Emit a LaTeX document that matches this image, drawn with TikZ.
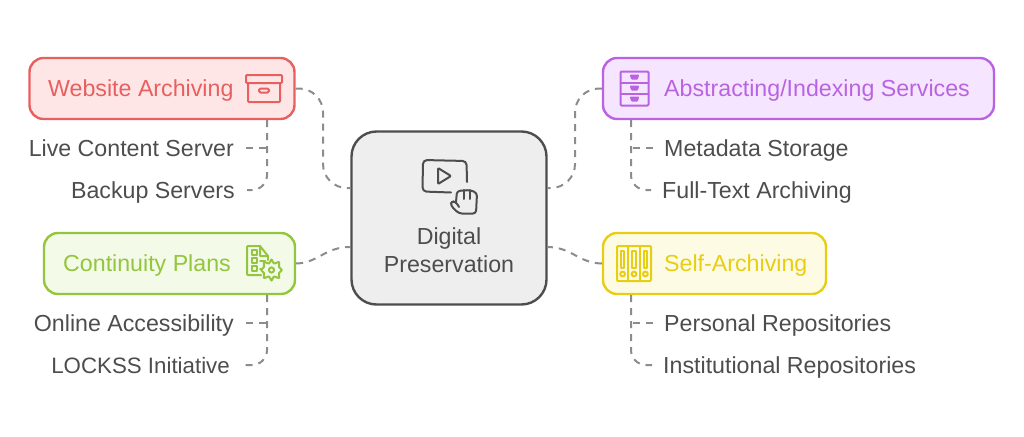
\documentclass[tikz,border=0pt]{standalone}
\usepackage{fontspec}
\setmainfont{Liberation Sans}
\usetikzlibrary{calc}
\definecolor{inkgrey}{HTML}{4D4D4D}
\definecolor{linkgrey}{HTML}{8C8C8C}
\definecolor{redline}{HTML}{E85F5F}
\definecolor{redfill}{HTML}{FFE6E6}
\definecolor{greenline}{HTML}{93C63C}
\definecolor{greenfill}{HTML}{F3FAE8}
\definecolor{purpleline}{HTML}{B963E3}
\definecolor{purplefill}{HTML}{F6E5FE}
\definecolor{yellowline}{HTML}{E8CE12}
\definecolor{yellowfill}{HTML}{FEFBE5}
\begin{document}
\begin{tikzpicture}[x=1pt,y=-1pt,line join=round,line cap=round,font=\fontsize{23.2}{27}\selectfont]
	\tikzstyle{box}=[draw,line width=2.4pt,rounded corners=14pt,inner sep=0pt] % coloured topic box
	\tikzstyle{redbox}=[box,draw=redline,fill=redfill,minimum width=265pt,minimum height=61pt]
	\tikzstyle{greenbox}=[box,draw=greenline,fill=greenfill,minimum width=251pt,minimum height=61pt]
	\tikzstyle{purplebox}=[box,draw=purpleline,fill=purplefill,minimum width=391pt,minimum height=61pt]
	\tikzstyle{yellowbox}=[box,draw=yellowline,fill=yellowfill,minimum width=223pt,minimum height=61pt]
	\tikzstyle{title}=[inner sep=0pt,text height=21pt,text depth=5pt] % text inside a box
	\tikzstyle{leftitem}=[text=inkgrey,text height=21pt,text depth=5pt,inner ysep=0pt,inner xsep=12pt,anchor=east]
	\tikzstyle{rightitem}=[text=inkgrey,text height=21pt,text depth=5pt,inner ysep=0pt,inner xsep=11pt,anchor=west]
	\tikzstyle{link}=[draw=linkgrey,line width=2pt,line cap=butt,dash pattern=on 7pt off 6pt]
	\tikzstyle{glyph}=[line width=2pt,fill=none]
	\useasboundingbox (0,0) rectangle (1024,436);

	% centre box and the four topic boxes
	\node(hub)[box,draw=inkgrey,fill=black!6.5,rounded corners=25pt,minimum width=195pt,minimum height=173pt] at (449,218) {};
	\node(web)[redbox] at (162,88.5) {};
	\node(plans)[greenbox] at (169.5,263.5) {};
	\node(index)[purplebox] at (798.5,88.5) {};
	\node(self)[yellowbox] at (714.5,263.5) {};

	% texts
	\node(hubA)[title,text=inkgrey] at (449,236) {Digital};
	\node(hubB)[title,text=inkgrey] at (449,264) {Preservation};
	\node(webT)[title,text=redline,anchor=west] at (48,88.5) {Website Archiving};
	\node(plansT)[title,text=greenline,anchor=west] at (63,263.5) {Continuity Plans};
	\node(indexT)[title,text=purpleline,anchor=west] at (664,88.5) {Abstracting/Indexing Services};
	\node(selfT)[title,text=yellowline,anchor=west] at (664,263.5) {Self-Archiving};
	\node(live)[leftitem] at (246,148) {Live Content Server};
	\node(backup)[leftitem] at (247,190) {Backup Servers};
	\node(online)[leftitem] at (246,323) {Online Accessibility};
	\node(lockss)[leftitem,font=\fontsize{22.3}{27}\selectfont] at (242,365) {LOCKSS Initiative};
	\node(meta)[rightitem] at (653,148) {Metadata Storage};
	\node(full)[rightitem] at (651,190) {Full-Text Archiving};
	\node(personal)[rightitem] at (653,323) {Personal Repositories};
	\node(inst)[rightitem] at (652,365) {Institutional Repositories};

	% points where the dashed lines meet the boxes
	\coordinate (hubNW) at (350,188);
	\coordinate (hubSW) at (350,247);
	\coordinate (hubNE) at (547,188);
	\coordinate (hubSE) at (547,247);
	\coordinate (webOut) at (267,120);
	\coordinate (plansOut) at (267,295);
	\coordinate (indexOut) at (631,120);
	\coordinate (selfOut) at (631,295);
	\coordinate (leftMid) at (323,138);
	\coordinate (rightMid) at (575,138);

	% hub connections
	\draw[link,rounded corners=24pt] (web.east) -| (leftMid) |- (hubNW);
	\draw[link,rounded corners=24pt] (index.west) -| (rightMid) |- (hubNE);
	\draw[link] (plans.east) .. controls (318,263) and (325,247) .. (hubSW);
	\draw[link] (self.west) .. controls (578,263) and (572,247) .. (hubSE);

	% item connections
	\draw[link] (live.east) -- (live.east -| webOut);
	\draw[link,rounded corners=15pt] (webOut) |- (backup.east);
	\draw[link] (online.east) -- (online.east -| plansOut);
	\draw[link,rounded corners=15pt] (plansOut) |- (lockss.east);
	\draw[link] (meta.west) -- (meta.west -| indexOut);
	\draw[link,rounded corners=15pt] (indexOut) |- (full.west);
	\draw[link] (personal.west) -- (personal.west -| selfOut);
	\draw[link,rounded corners=15pt] (selfOut) |- (inst.west);

	% archive box
	\begin{scope}[glyph,draw=redline]
		\draw[rounded corners=1pt] (246,75) rectangle (282,83);
		\draw[rounded corners=1pt] (248,83) -- (248,102) -- (280,102) -- (280,83);
		\draw[rounded corners=1.5pt] (259,88.5) rectangle (269,92.5);
	\end{scope}

	% checklist with gear
	\begin{scope}[glyph,draw=greenline]
		\draw[rounded corners=1pt] (260,246) -- (247,246) -- (247,275) -- (261,275);
		\draw (260,246) -- (268,256) -- (260,256) -- cycle;
		\draw (268,256) -- (268,260);
		\foreach \ypos in {250,258,266}
			\draw (252,\ypos) rectangle (257,\ypos+5);
		\draw (260,260.5) -- (265,260.5);
		\draw (260,268.5) -- (262,268.5);
		\draw (271.5,270) circle (2.6);
		\draw plot[smooth cycle,tension=0.35] coordinates {(271.5,259.5) (274,263.5) (279,262) (279,267) (282,270) (279,273) (279,278) (274,276.5) (271.5,280.5) (269,276.5) (264,278) (264,273) (261,270) (264,267) (264,262) (269,263.5)};
	\end{scope}

	% drawers
	\begin{scope}[glyph,draw=purpleline]
		\draw[rounded corners=1pt] (620.5,71.5) rectangle (648.5,105.5);
		\draw (620.5,82.5) -- (648.5,82.5);
		\draw (620.5,93.5) -- (648.5,93.5);
		\foreach \ypos in {77,88,99}
			\draw[fill=purpleline] (631,\ypos-1.5) -- (638,\ypos-1.5) -- (637,\ypos+1.5) -- (632,\ypos+1.5) -- cycle;
	\end{scope}

	% binders
	\begin{scope}[glyph,draw=yellowline]
		\draw[rounded corners=1pt] (617,246) rectangle (651,281);
		\draw (628.3,246) -- (628.3,281);
		\draw (639.7,246) -- (639.7,281);
		\foreach \xpos in {622.6,634,645.4} {
			\draw (\xpos-1.7,250.5) rectangle (\xpos+1.7,268);
			\draw (\xpos,274) circle (2.4);
		}
	\end{scope}

	% screen with play button and hand
	\begin{scope}[glyph,draw=inkgrey]
		\draw[rounded corners=4pt] (467,182) -- (466.5,161) -- (423,160) -- (422.5,191.5) -- (451,192.5);
		\draw[rounded corners=1pt] (438,168) -- (451,176) -- (438,184) -- cycle;
		\draw[rounded corners=3pt] (459,207) -- (456,202) -- (451,201) -- (451,206) -- (459,213.5) -- (476,213.5) -- (477,193) -- (470,190) -- (457,191) -- (456,202);
		\draw (463.5,190) -- (463.5,199);
		\draw (470,190) -- (470,199);
	\end{scope}
\end{tikzpicture}
\end{document}
